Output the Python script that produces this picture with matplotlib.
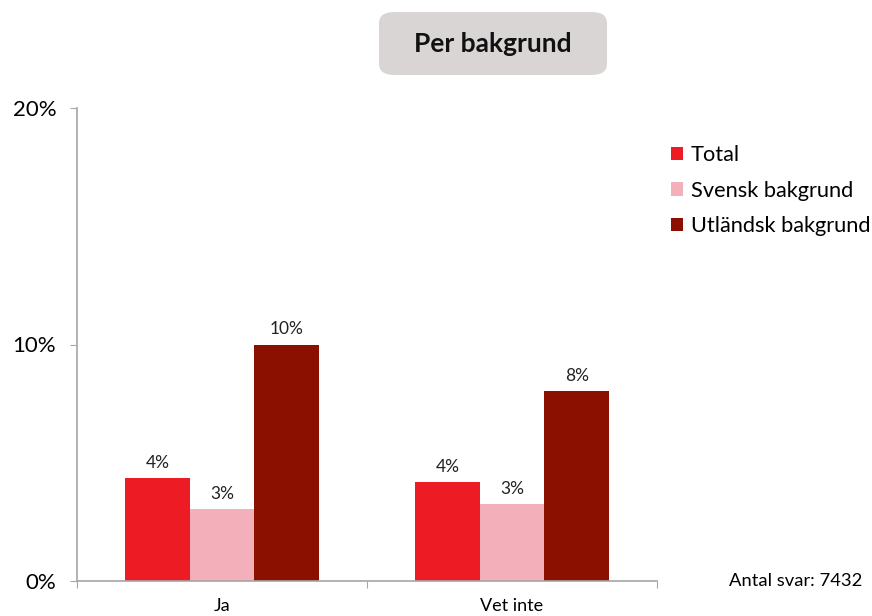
import numpy as np
import matplotlib.pyplot as plt
from matplotlib.patches import FancyBboxPatch

plt.rcParams["font.family"] = ["Lato", "DejaVu Sans"]

# data (percent)
categories = ["Ja", "Vet inte"]
series_names = ["Total", "Svensk bakgrund", "Utländsk bakgrund"]
total = [4.36, 4.19]
svensk = [3.04, 3.26]
utlandsk = [10.0, 8.03]
series_values = [total, svensk, utlandsk]
colors = ["#ED1C24", "#F4B0BA", "#8B1000"]
y_ticks = [0, 10, 20]

fig = plt.figure(figsize=(8.72, 6.16), dpi=100)
ax = fig.add_axes([77 / 872, 1 - 581 / 616, 580 / 872, 473 / 616])

x = np.arange(len(categories))
width = 0.223
offsets = [-width, 0, width]
for name, vals, col, off in zip(series_names, series_values, colors, offsets):
    bars = ax.bar(x + off, vals, width, color=col, label=name, edgecolor="none")
    for b, v in zip(bars, vals):
        ax.text(b.get_x() + b.get_width() / 2, v + 0.3, f"{round(v):.0f}%",
                ha="center", va="bottom", fontsize=12.5, color="#222222")

ax.set_xlim(-0.5, len(categories) - 0.5)
ax.set_ylim(0, 20)
ax.set_yticks(y_ticks)
ax.set_yticklabels([f"{t}%" for t in y_ticks], fontsize=16)

# category ticks sit on the group boundaries
ax.set_xticks(np.arange(len(categories) + 1) - 0.5)
ax.set_xticklabels([])
ax.set_xticks(x, minor=True)
ax.set_xticklabels(categories, minor=True, fontsize=13)
ax.tick_params(axis="x", which="minor", length=0, pad=12)
ax.tick_params(axis="x", which="major", length=5, color="#A6A6A6", direction="out")
ax.tick_params(axis="y", length=5, color="#A6A6A6", pad=10)

for s in ["top", "right"]:
    ax.spines[s].set_visible(False)
for s in ["left", "bottom"]:
    ax.spines[s].set_color("#A6A6A6")
    ax.spines[s].set_linewidth(1.2)

# title box
box = FancyBboxPatch((379 / 872, 1 - 75 / 616), 228 / 872, 63 / 616,
                     boxstyle="round,pad=0,rounding_size=0.018",
                     transform=fig.transFigure, facecolor="#D9D5D5", edgecolor="none")
fig.patches.append(box)
fig.text(493 / 872, 1 - 44 / 616, "Per bakgrund", ha="center", va="center",
         fontsize=19, fontweight="bold", color="#111111")

fig.legend(loc="upper left", bbox_to_anchor=(671 / 872, 1 - 145 / 616), frameon=False,
           fontsize=15.7, handlelength=0.55, handleheight=0.55, handletextpad=0.35,
           labelspacing=0.72, borderaxespad=0, borderpad=0)

fig.text(862 / 872, 1 - 581 / 616, "Antal svar: 7432", ha="right", va="center", fontsize=13.2)

fig.savefig("out.png", dpi=100)
